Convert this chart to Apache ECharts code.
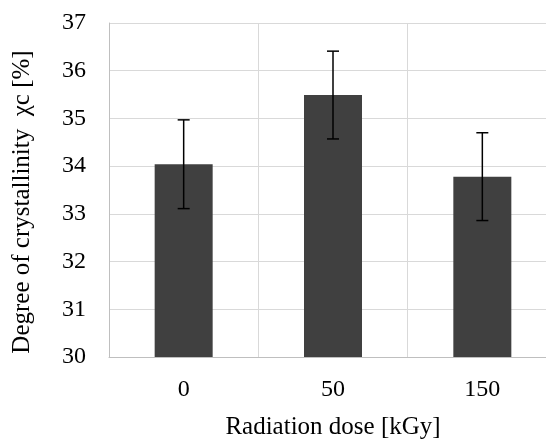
<!DOCTYPE html>
<html>
<head>
<meta charset="utf-8">
<script src="https://cdn.jsdelivr.net/npm/echarts@6/dist/echarts.min.js"></script>
<style>html,body{margin:0;padding:0;background:#fff}#c{width:546px;height:440px}</style>
</head>
<body>
<div id="c"></div>
<script>
const categories = ['0', '50', '150'];
const crystallinity = [34.04, 35.49, 33.78];
const errors = [0.93, 0.92, 0.92];
const yTicks = [30, 31, 32, 33, 34, 35, 36, 37];

const FONT = '"Liberation Serif", "Times New Roman", serif';
const chart = echarts.init(document.getElementById('c'));
chart.setOption({
  animation: false,
  backgroundColor: '#fff',
  grid: { left: 109, top: 23, height: 334, width: 448, containLabel: false, outerBoundsMode: 'none' },
  xAxis: {
    type: 'category',
    data: categories,
    name: 'Radiation dose [kGy]',
    nameLocation: 'middle',
    nameGap: 58,
    nameTextStyle: { fontFamily: FONT, fontSize: 25, color: '#000' },
    axisLine: { lineStyle: { color: '#bfbfbf', width: 1 } },
    axisTick: { show: false },
    axisLabel: { fontFamily: FONT, fontSize: 24, color: '#000', margin: 21 },
    splitLine: { show: true, lineStyle: { color: '#d9d9d9', width: 1 } }
  },
  yAxis: {
    type: 'value',
    min: yTicks[0],
    max: yTicks[yTicks.length - 1],
    interval: 1,
    axisLine: { show: true, lineStyle: { color: '#bfbfbf', width: 1 } },
    axisTick: { show: false },
    axisLabel: { fontFamily: FONT, fontSize: 24, color: '#000', margin: 23 },
    splitLine: { lineStyle: { color: '#d9d9d9', width: 1 } }
  },
  graphic: [{
    type: 'text',
    x: 22, y: 202,
    rotation: Math.PI / 2,
    style: {
      text: 'Degree of crystallinity  \u03c7c [%]',
      font: '25px ' + FONT,
      fill: '#000',
      align: 'center',
      verticalAlign: 'middle'
    }
  }],
  series: [{
    type: 'bar',
    data: crystallinity,
    barWidth: 58,
    itemStyle: { color: '#404040' }
  }, {
    type: 'custom',
    data: crystallinity.map((v, i) => [i, v - errors[i], v + errors[i]]),
    renderItem: function (params, api) {
      const lo = api.coord([api.value(0), api.value(1)]);
      const hi = api.coord([api.value(0), api.value(2)]);
      const hw = 6;
      const st = { stroke: '#000', lineWidth: 1.5 };
      return {
        type: 'group',
        children: [
          { type: 'line', shape: { x1: hi[0], y1: hi[1], x2: lo[0], y2: lo[1] }, style: st },
          { type: 'line', shape: { x1: hi[0] - hw, y1: hi[1], x2: hi[0] + hw, y2: hi[1] }, style: st },
          { type: 'line', shape: { x1: lo[0] - hw, y1: lo[1], x2: lo[0] + hw, y2: lo[1] }, style: st }
        ]
      };
    },
    z: 10
  }]
});
</script>
</body>
</html>
